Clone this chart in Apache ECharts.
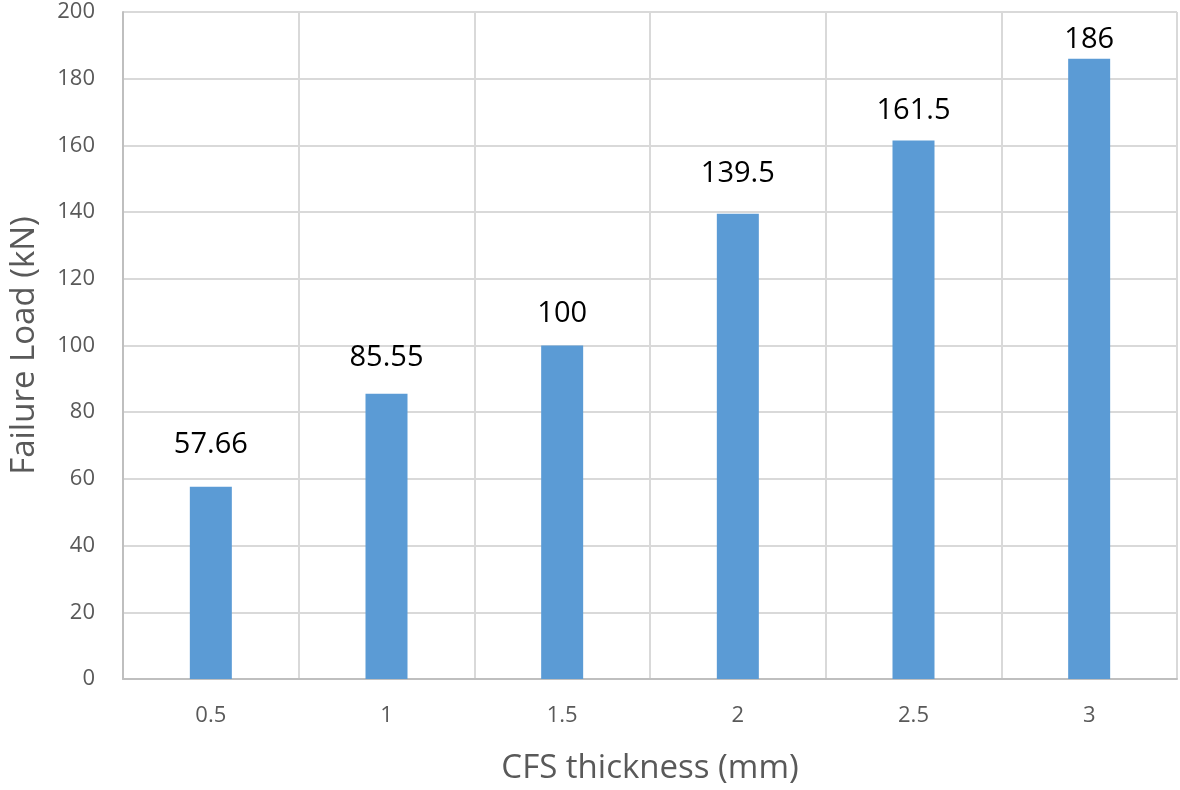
<!DOCTYPE html>
<html><head><meta charset="utf-8">
<script src="https://cdn.jsdelivr.net/npm/echarts@6/dist/echarts.min.js"></script>
<style>html,body{margin:0;padding:0;background:#fff}#c{width:1180px;height:790px}</style>
</head><body><div id="c"></div>
<script>
const categories = ['0.5', '1', '1.5', '2', '2.5', '3'];
const failureLoad = [57.66, 85.55, 100, 139.5, 161.5, 186];
const yTicks = {min: 0, max: 200, interval: 20};
// label gap above each bar (style only)
const labelGaps = [27, 21, 17, 26, 15, 4];

const chart = echarts.init(document.getElementById('c'), null, {renderer: 'canvas'});
chart.setOption({
  animation: false,
  backgroundColor: '#fff',
  grid: {left: 120, right: 3, top: 12, bottom: 110, containLabel: false},
  xAxis: {
    type: 'category', data: categories, boundaryGap: true,
    name: 'CFS thickness (mm)', nameLocation: 'middle', nameGap: 73,
    nameTextStyle: {fontFamily: 'Open Sans', fontSize: 33, color: '#595959'},
    axisLine: {lineStyle: {color: '#BFBFBF', width: 2}},
    axisTick: {show: false},
    axisLabel: {fontFamily: 'Open Sans', fontSize: 22, color: '#595959', margin: 26},
    splitLine: {show: true, lineStyle: {color: '#D9D9D9', width: 2}}
  },
  yAxis: {
    type: 'value', min: yTicks.min, max: yTicks.max, interval: yTicks.interval,
    name: 'Failure Load (kN)', nameLocation: 'middle', nameGap: 82,
    nameTextStyle: {fontFamily: 'Open Sans', fontSize: 33, color: '#595959'},
    axisLine: {show: true, lineStyle: {color: '#BFBFBF', width: 2}},
    axisTick: {show: false},
    axisLabel: {fontFamily: 'Open Sans', fontSize: 22, color: '#595959', margin: 28},
    splitLine: {show: true, lineStyle: {color: '#D9D9D9', width: 2}}
  },
  series: [{
    type: 'bar',
    data: failureLoad.map((v, i) => ({value: v, label: {distance: labelGaps[i]}})),
    barWidth: 42,
    itemStyle: {color: '#5B9BD5'},
    label: {show: true, position: 'top', fontFamily: 'Open Sans', fontSize: 29, color: '#000'}
  }]
});
</script></body></html>
